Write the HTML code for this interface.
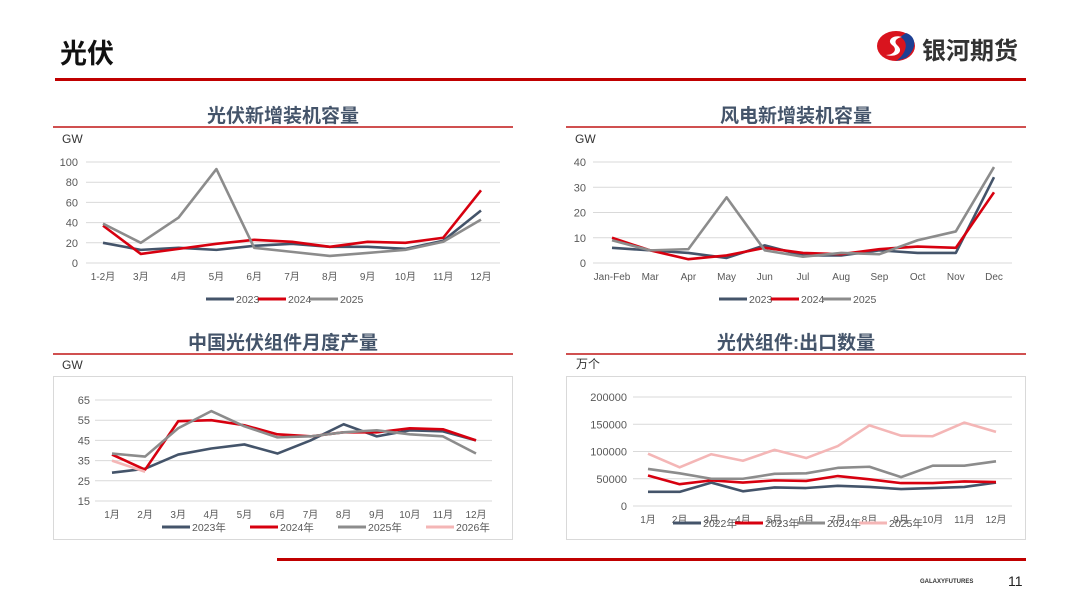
<!DOCTYPE html>
<html><head><meta charset="utf-8">
<style>
body{margin:0;width:1080px;height:608px;background:#fff;position:relative;overflow:hidden;font-family:"Liberation Sans","Noto Sans CJK SC",sans-serif;}
.abs{position:absolute}
.ptitle{position:absolute;font-size:19px;font-weight:bold;color:#44546a;text-align:center;}
.pline{position:absolute;height:2px;background:#d05050}
svg text{font-family:"Liberation Sans","Noto Sans CJK SC",sans-serif;}
</style></head><body>
<div class="abs" style="left:60px;top:32px;font-size:27px;font-weight:bold;color:#111;">光伏</div>
<div class="abs" style="left:876px;top:28px;width:42px;height:36px;">
<svg width="42" height="36" viewBox="0 0 42 36"><ellipse cx="20" cy="18" rx="19" ry="15" fill="#d9141e"/><path d="M30 5 C40 8 42 20 30 30 L20 33 C30 26 34 14 24 9 Z" fill="#1d3f93"/><path d="M26 9 C18 6 10 12 16 17 C22 21 18 27 10 27 C20 30 28 24 22 18 C17 14 20 10 26 9Z" fill="#fff"/></svg></div>
<div class="abs" style="left:922px;top:31px;font-size:24px;font-weight:bold;color:#333;">银河期货</div>
<div class="abs" style="left:55px;top:78px;width:971px;height:3px;background:#c00000"></div>

<div class="ptitle" style="left:53px;top:101px;width:460px;">光伏新增装机容量</div>
<div class="pline" style="left:53px;top:126px;width:460px;"></div>
<div class="ptitle" style="left:566px;top:101px;width:460px;">风电新增装机容量</div>
<div class="pline" style="left:566px;top:126px;width:460px;"></div>
<div class="ptitle" style="left:53px;top:328px;width:460px;">中国光伏组件月度产量</div>
<div class="pline" style="left:53px;top:353px;width:460px;"></div>
<div class="ptitle" style="left:566px;top:328px;width:460px;">光伏组件:出口数量</div>
<div class="pline" style="left:566px;top:353px;width:460px;"></div>

<div class="abs" style="left:53px;top:376px;width:458px;height:162px;border:1px solid #d9d9d9"></div>
<div class="abs" style="left:566px;top:376px;width:458px;height:162px;border:1px solid #d9d9d9"></div>

<div class="abs" style="left:277px;top:558px;width:749px;height:3px;background:#c00000"></div>
<div class="abs" style="left:920px;top:579px;font-size:6px;color:#333;font-weight:bold">GALAXYFUTURES</div>
<div class="abs" style="left:1008px;top:573px;font-size:14px;color:#222">11</div>

<svg id="cv" width="1080" height="608" style="position:absolute;left:0;top:0"></svg>
<script>
const c1Cats=["1-2月","3月","4月","5月","6月","7月","8月","9月","10月","11月","12月"];
const c1Ticks=[0,20,40,60,80,100];
const c1S2023=[20,13,15,13,17,19,16,16,14,22,52];
const c1S2024=[37,9,14,19,23,21,16,21,20,25,72];
const c1S2025=[39,20,45,93,15,11,7,10,13,21,43];

const c2Cats=["Jan-Feb","Mar","Apr","May","Jun","Jul","Aug","Sep","Oct","Nov","Dec"];
const c2Ticks=[0,10,20,30,40];
const c2S2023=[6,5,4,2,7,3,3,5,4,4,34];
const c2S2024=[10,5,1.5,3,6,4,3.5,5.5,6.5,6,28];
const c2S2025=[9,5,5.5,26,5,2.5,4,3.5,9,12.5,38];

const c3Cats=["1月","2月","3月","4月","5月","6月","7月","8月","9月","10月","11月","12月"];
const c3Ticks=[15,25,35,45,55,65];
const c3S2023=[29,31,38,41,43,38.5,45,53,47,50,49.5,45];
const c3S2024=[38,30.5,54.5,55,52.5,48,47,49,49,51,50.5,45];
const c3S2025=[38.5,37,51,59.5,52,46.5,47,49,50,48,47,38.5];
const c3S2026=[35,29.5];

const c4Cats=["1月","2月","3月","4月","5月","6月","7月","8月","9月","10月","11月","12月"];
const c4Ticks=[0,50000,100000,150000,200000];
const c4S2022=[26000,26000,43000,27000,34000,33000,37000,35000,31000,33000,35000,43000];
const c4S2023=[56000,40000,47000,43000,47000,46000,55000,49000,42000,42000,45000,44000];
const c4S2024=[68000,60000,50000,50000,59000,60000,70000,72000,53000,74000,74000,82000];
const c4S2025=[96000,71000,95000,83000,103000,88000,110000,148000,129000,128000,153000,136000];

const svg=document.getElementById('cv');const NS='http://www.w3.org/2000/svg';
function mk(t,a,txt){const e=document.createElementNS(NS,t);for(const k in a)e.setAttribute(k,a[k]);if(txt!==undefined)e.textContent=txt;svg.appendChild(e);return e;}
const DARK="#44546a",RED="#d7000f",GRAY="#8c8c8c",PINK="#f4b6b6";
function chart(id,cfg){
  const {cats,ticks,series,x0,x1,gx0,gx1,yTop,yBot,unit,unitX,unitY,legY,legX,legGap,labY,tickX}=cfg;
  const tmin=ticks[0],tmax=ticks[ticks.length-1];
  const yS=v=>yBot-(v-tmin)/(tmax-tmin)*(yBot-yTop);
  const xS=i=>x0+i*(x1-x0)/(cats.length-1);
  const u=mk('text',{x:unitX,y:unitY,'font-size':12,fill:'#333'},unit);
  
  
  ticks.forEach(t=>{
    const g=mk('line',{x1:gx0,x2:gx1,y1:yS(t),y2:yS(t),stroke:'#d9d9d9','stroke-width':1});
    
    
    const l=mk('text',{x:tickX,y:yS(t)+4,'font-size':11,fill:'#595959','text-anchor':'end'},String(t));
    
    
  });
  cats.forEach((c,i)=>{
    const l=mk('text',{x:xS(i),y:labY,'font-size':10,fill:'#595959','text-anchor':'middle'},c);
    
    
  });
  series.forEach((s,k)=>{
    const pts=s.data.map((v,i)=>xS(i)+','+yS(v)).join(' ');
    const p=mk('polyline',{points:pts,fill:'none',stroke:s.color,'stroke-width':2.6,'stroke-linejoin':'round'});
    
    
    const lx=legX+k*legGap;
    const ll=mk('line',{x1:lx,x2:lx+28,y1:legY-4,y2:legY-4,stroke:s.color,'stroke-width':3});
    
    
    const lt=mk('text',{x:lx+30,y:legY,'font-size':10.5,fill:'#595959'},s.label);
    
    
  });
}
chart('chart1',{cats:c1Cats,ticks:c1Ticks,series:[{name:'2023',label:'2023',data:c1S2023,color:DARK},{name:'2024',label:'2024',data:c1S2024,color:RED},{name:'2025',label:'2025',data:c1S2025,color:GRAY}],
 x0:103,x1:481,gx0:86,gx1:500,yTop:162,yBot:263,unit:'GW',unitX:62,unitY:143,legY:303,legX:206,legGap:52,labY:280,tickX:78});
chart('chart2',{cats:c2Cats,ticks:c2Ticks,series:[{name:'2023',label:'2023',data:c2S2023,color:DARK},{name:'2024',label:'2024',data:c2S2024,color:RED},{name:'2025',label:'2025',data:c2S2025,color:GRAY}],
 x0:612,x1:994,gx0:593,gx1:1012,yTop:162,yBot:263,unit:'GW',unitX:575,unitY:143,legY:303,legX:719,legGap:52,labY:280,tickX:586});
chart('chart3',{cats:c3Cats,ticks:c3Ticks,series:[{name:'2023',label:'2023年',data:c3S2023,color:DARK},{name:'2024',label:'2024年',data:c3S2024,color:RED},{name:'2025',label:'2025年',data:c3S2025,color:GRAY},{name:'2026',label:'2026年',data:c3S2026,color:PINK}],
 x0:112,x1:476,gx0:95,gx1:492,yTop:400,yBot:501,unit:'GW',unitX:62,unitY:369,legY:531,legX:162,legGap:88,labY:518,tickX:90});
chart('chart4',{cats:c4Cats,ticks:c4Ticks,series:[{name:'2022',label:'2022年',data:c4S2022,color:DARK},{name:'2023',label:'2023年',data:c4S2023,color:RED},{name:'2024',label:'2024年',data:c4S2024,color:GRAY},{name:'2025',label:'2025年',data:c4S2025,color:PINK}],
 x0:648,x1:996,gx0:633,gx1:1012,yTop:397,yBot:506,unit:'万个',unitX:576,unitY:368,legY:527,legX:673,legGap:62,labY:523,tickX:627});
</script>
</body></html>
